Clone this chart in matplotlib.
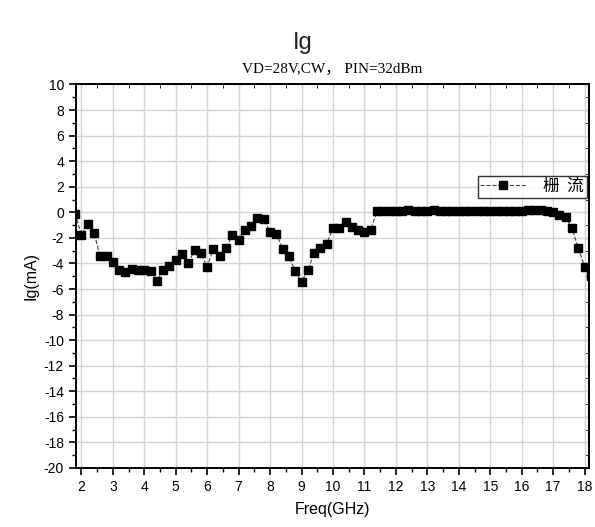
import numpy as np
import matplotlib.pyplot as plt
from matplotlib.ticker import MultipleLocator

plt.rcParams['axes.unicode_minus'] = False

# Gate current vs frequency, VD=28V CW, PIN=32dBm
freq_ghz = np.round(np.arange(1.8, 18.21, 0.2), 1)
ig_ma = [
    -0.1, -1.75, -0.9, -1.6, -3.45, -3.45, -3.85, -4.55, -4.65, -4.4,   # 1.8 - 3.6
    -4.5, -4.5, -4.6, -5.35, -4.55, -4.2, -3.7, -3.25, -4.0, -2.95,    # 3.8 - 5.6
    -3.2, -4.25, -2.85, -3.45, -2.8, -1.8, -2.15, -1.35, -1.05, -0.45,  # 5.8 - 7.6
    -0.5, -1.55, -1.7, -2.85, -3.45, -4.6, -5.45, -4.5, -3.2, -2.8,     # 7.8 - 9.6
    -2.45, -1.25, -1.25, -0.75, -1.15, -1.35, -1.55, -1.35,             # 9.8 - 11.2
    0.08, 0.1, 0.08, 0.12, 0.1, 0.15, 0.12, 0.1, 0.12, 0.15,            # 11.4 - 13.2
    0.12, 0.1, 0.12, 0.1, 0.12, 0.1, 0.12, 0.1, 0.1, 0.12,              # 13.4 - 15.2
    0.1, 0.12, 0.1, 0.12, 0.15, 0.2, 0.15, 0.1, 0.0,                    # 15.4 - 17.0
    -0.2, -0.4, -1.25, -2.8, -4.25, -5.0,                               # 17.2 - 18.2
]
series_label = '栅  流'
x_ticks = list(range(2, 19))
y_ticks = list(range(-20, 11, 2))

fig = plt.figure(figsize=(5.95, 5.27), dpi=100)
ax = fig.add_axes([0.1272, 0.1120, 0.8627, 0.7277])

ax.plot(freq_ghz, ig_ma, color='#444444', lw=0.8, ls='--',
        marker='s', ms=5.2, mfc='black', mec='black', label=series_label)

ax.set_xlim(1.82, 18.14)
ax.set_ylim(-20, 10)
ax.set_xticks(x_ticks)
ax.set_yticks(y_ticks)
ax.xaxis.set_minor_locator(MultipleLocator(0.5))
ax.yaxis.set_minor_locator(MultipleLocator(1))
ax.grid(True, which='major', color='#d4d4d4', lw=1.0)
ax.set_axisbelow(True)

ax.tick_params(which='major', direction='out', length=5, width=1.2,
               labelsize=10, top=False, right=False)
ax.tick_params(which='minor', direction='out', length=3, width=1.0,
               top=False, right=False)
for lbl in ax.get_xticklabels() + ax.get_yticklabels():
    lbl.set_family('Liberation Sans')

# inward ticks on top and right
axt = ax.secondary_xaxis('top')
axt.set_xticks(x_ticks)
axt.xaxis.set_minor_locator(MultipleLocator(0.5))
axt.tick_params(which='both', direction='in', length=3, labeltop=False)
axr = ax.secondary_yaxis('right')
axr.set_yticks(y_ticks)
axr.yaxis.set_minor_locator(MultipleLocator(1))
axr.tick_params(which='both', direction='in', length=3, labelright=False)

for s in ax.spines.values():
    s.set_linewidth(1.4)
axt.spines['top'].set_linewidth(1.4)
axr.spines['right'].set_linewidth(1.4)

ax.set_xlabel('Freq(GHz)', fontsize=11.5, family='Liberation Sans', labelpad=6)
ax.set_ylabel('Ig(mA)', fontsize=11.5, family='Liberation Sans', labelpad=4)

fig.text(0.508, 0.918, 'Ig', ha='center', va='center', fontsize=17,
         family='Liberation Sans', color='#222222')
ax.set_title('VD=28V,CW， PIN=32dBm', fontsize=11,
             family=['Liberation Serif', 'Noto Sans CJK SC'], pad=8)

leg = ax.legend(loc='upper right', bbox_to_anchor=(0.9955, 0.762),
                prop={'family': ['Noto Sans CJK SC', 'DejaVu Sans'], 'size': 12},
                frameon=True, fancybox=False, handlelength=2.8,
                borderpad=0.15, handletextpad=1.0, borderaxespad=0)
leg.get_frame().set_edgecolor('black')
leg.get_frame().set_linewidth(1.0)

fig.savefig('out.png', dpi=100)
